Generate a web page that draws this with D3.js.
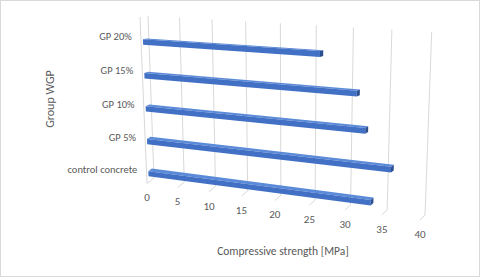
<!DOCTYPE html>
<html>
<head>
<meta charset="utf-8">
<script src="https://cdn.jsdelivr.net/npm/d3@7"></script>
<style>
	body {margin: 0; background: #fff;}
	text {font-family: Carlito, Calibri, Lato, "Open Sans", sans-serif; fill: #595959;}
</style>
</head>
<body>
<div id="chart"></div>
<script>
// data (top to bottom as drawn)
const CATEGORIES = ["GP 20%", "GP 15%", "GP 10%", "GP 5%", "control concrete"];
const STRENGTH = [26.2, 31.2, 32.4, 35.9, 33.3];
const TICKS = [0, 5, 10, 15, 20, 25, 30, 35, 40];
const X_TITLE = "Compressive strength [MPa]";
const Y_TITLE = "Group WGP";

const FRAME_WIDTH = 480;
const FRAME_HEIGHT = 277;

// back wall corners on screen (value 0 / 40, top / bottom)
const WALL = {tl: [148, 16], tr: [431.7, 31.7], br: [425, 215], bl: [154, 178]};
// offset from back wall to front edge of the floor, per corner
const DEPTH = {tl: [-8, 1], tr: [-6, 1.5], br: [-5, 5], bl: [-7, 5.5]};

// unit square -> quad (perspective)
function squareToQuad(p0, p1, p2, p3) {
	const dx1 = p1[0] - p2[0], dx2 = p3[0] - p2[0], dx3 = p0[0] - p1[0] + p2[0] - p3[0];
	const dy1 = p1[1] - p2[1], dy2 = p3[1] - p2[1], dy3 = p0[1] - p1[1] + p2[1] - p3[1];
	const den = dx1 * dy2 - dx2 * dy1;
	const g = (dx3 * dy2 - dx2 * dy3) / den;
	const h = (dx1 * dy3 - dx3 * dy1) / den;
	const a = p1[0] - p0[0] + g * p1[0], b = p3[0] - p0[0] + h * p3[0], c = p0[0];
	const d = p1[1] - p0[1] + g * p1[1], e = p3[1] - p0[1] + h * p3[1], f = p0[1];
	return (s, t) => {
		const w = g * s + h * t + 1;
		return [(a * s + b * t + c) / w, (d * s + e * t + f) / w];
	};
}
const WALL_MAP = squareToQuad(WALL.tl, WALL.tr, WALL.br, WALL.bl);

const X_SCALE = d3.scaleLinear().domain([0, 40]).range([0, 1]);
const Y_SCALE = d3.scaleBand().domain(CATEGORIES).range([0, 1]);

// v = value, u = 0 top .. 1 bottom, z = 0 back wall .. 1 front
function project(v, u, z) {
	const s = X_SCALE(v);
	const p = WALL_MAP(s, u);
	const lerp = (k) => (1 - s) * (1 - u) * DEPTH.tl[k] + s * (1 - u) * DEPTH.tr[k]
		+ s * u * DEPTH.br[k] + (1 - s) * u * DEPTH.bl[k];
	return [p[0] + z * lerp(0), p[1] + z * lerp(1)];
}
const poly = (pts) => pts.map((p) => p.join(",")).join(" ");

const svg = d3.select("#chart")
	.append("svg")
		.attr("width", FRAME_WIDTH)
		.attr("height", FRAME_HEIGHT);

// chart border
svg.append("rect")
	.attr("x", 0.5).attr("y", 0.5)
	.attr("width", FRAME_WIDTH - 1).attr("height", FRAME_HEIGHT - 1)
	.attr("fill", "#fff").attr("stroke", "#d9d9d9");

// gridlines on the back wall + floor ticks
const grid = svg.append("g").attr("stroke", "#d9d9d9").attr("fill", "none").attr("stroke-width", 1);
TICKS.forEach((t) => {
	grid.append("polyline").attr("points", poly([project(t, 0, 0), project(t, 1, 0), project(t, 1, 1)]));
});
// front edge of side wall
grid.append("line")
	.attr("x1", project(0, 0, 1)[0]).attr("y1", project(0, 0, 1)[1])
	.attr("x2", project(0, 1, 1)[0]).attr("y2", project(0, 1, 1)[1]);

// bars
const ZA = 0.25, ZB = 0.75;
const bars = svg.append("g");
CATEGORIES.forEach((c, i) => {
	const bw = Y_SCALE.bandwidth();
	const ut = Y_SCALE(c) + 0.655 * bw;
	const ub = Y_SCALE(c) + 0.815 * bw;
	const v = STRENGTH[i];
	const g = bars.append("g");
	// top face
	g.append("polygon")
		.attr("points", poly([project(0, ut, ZA), project(v, ut, ZA), project(v, ut, ZB), project(0, ut, ZB)]))
		.attr("fill", "#5b8ad8");
	// front face
	g.append("polygon")
		.attr("points", poly([project(0, ut, ZB), project(v, ut, ZB), project(v, ub, ZB), project(0, ub, ZB)]))
		.attr("fill", "#4170c4");
	// end cap
	g.append("polygon")
		.attr("points", poly([project(v, ut, ZA), project(v, ub, ZA), project(v, ub, ZB), project(v, ut, ZB)]))
		.attr("fill", "#2c4f8f");
});

// value tick labels
svg.append("g").selectAll("text")
	.data(TICKS)
	.enter()
	.append("text")
		.attr("x", (d) => project(d, 1, 1)[0])
		.attr("y", (d) => project(d, 1, 1)[1] + 14)
		.attr("dy", "0.35em")
		.attr("text-anchor", "middle")
		.attr("font-size", "11px")
		.text((d) => d);

// category labels
svg.append("g").selectAll("text")
	.data(CATEGORIES)
	.enter()
	.append("text")
		.attr("x", (d) => project(0, Y_SCALE(d) + Y_SCALE.bandwidth() / 2, 1)[0] - 9)
		.attr("y", (d) => project(0, Y_SCALE(d) + Y_SCALE.bandwidth() / 2, 1)[1] + 2)
		.attr("dy", "0.35em")
		.attr("text-anchor", "end")
		.attr("font-size", "10.5px")
		.text((d) => d);

// axis titles
svg.append("text")
	.attr("x", 283).attr("y", 251)
	.attr("dy", "0.35em")
	.attr("text-anchor", "middle")
	.attr("font-size", "11.5px")
	.text(X_TITLE);

svg.append("text")
	.attr("transform", "translate(50,99) rotate(-90)")
	.attr("dy", "0.35em")
	.attr("text-anchor", "middle")
	.attr("font-size", "12px")
	.text(Y_TITLE);
</script>
</body>
</html>
